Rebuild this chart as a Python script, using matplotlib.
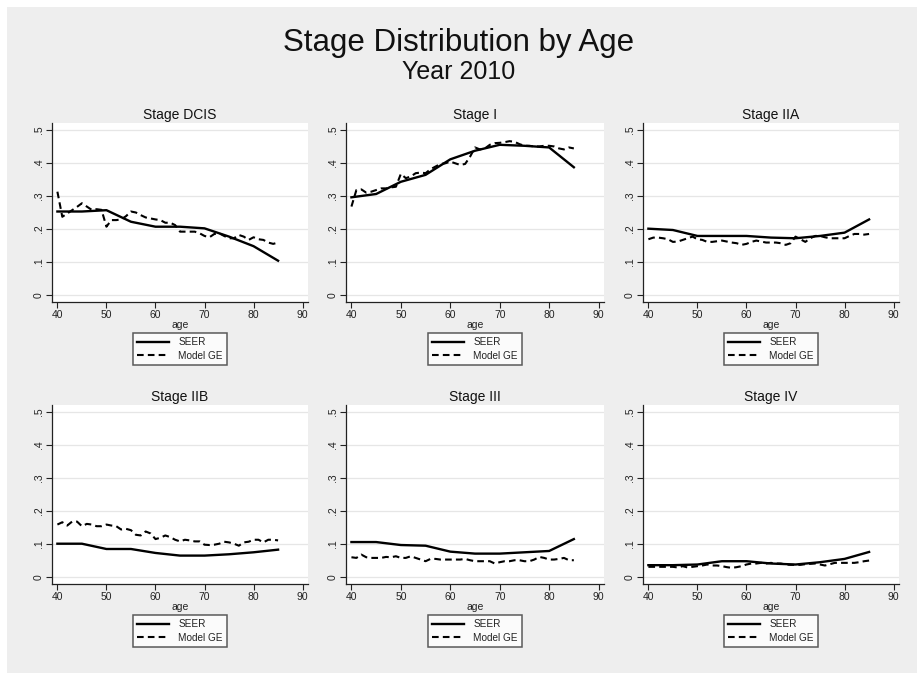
import matplotlib
matplotlib.use("Agg")
import matplotlib.pyplot as plt
from matplotlib.patches import Rectangle

plt.rcParams['font.family'] = ['Liberation Sans', 'DejaVu Sans']

ages = list(range(40, 86))
seer_ages = [40, 45, 50, 55, 60, 65, 70, 75, 80, 85]

titles = ["Stage DCIS", "Stage I", "Stage IIA", "Stage IIB", "Stage III", "Stage IV"]

seer_dcis = [0.253, 0.253, 0.257, 0.222, 0.207, 0.207, 0.202, 0.177, 0.148, 0.104]
seer_i    = [0.296, 0.306, 0.343, 0.364, 0.411, 0.437, 0.455, 0.452, 0.447, 0.387]
seer_iia  = [0.201, 0.197, 0.179, 0.179, 0.179, 0.174, 0.172, 0.179, 0.189, 0.229]
seer_iib  = [0.101, 0.101, 0.085, 0.085, 0.073, 0.065, 0.065, 0.069, 0.075, 0.083]
seer_iii  = [0.106, 0.106, 0.097, 0.095, 0.077, 0.071, 0.071, 0.075, 0.079, 0.115]
seer_iv   = [0.036, 0.036, 0.038, 0.048, 0.048, 0.041, 0.038, 0.045, 0.055, 0.076]

model_dcis = [0.313, 0.237, 0.247, 0.257, 0.267, 0.278, 0.268, 0.258, 0.260, 0.258,
              0.207, 0.227, 0.227, 0.229, 0.239, 0.253, 0.250, 0.242, 0.235, 0.232,
              0.229, 0.227, 0.219, 0.219, 0.212, 0.192, 0.192, 0.192, 0.192, 0.187,
              0.179, 0.175, 0.185, 0.187, 0.179, 0.172, 0.172, 0.182, 0.177, 0.167,
              0.175, 0.169, 0.167, 0.159, 0.155, 0.159]
model_i = [0.268, 0.318, 0.320, 0.310, 0.313, 0.318, 0.323, 0.323, 0.326, 0.328,
           0.367, 0.354, 0.359, 0.369, 0.371, 0.369, 0.381, 0.389, 0.397, 0.399,
           0.404, 0.399, 0.394, 0.397, 0.419, 0.447, 0.441, 0.444, 0.455, 0.460,
           0.461, 0.463, 0.466, 0.464, 0.457, 0.452, 0.452, 0.450, 0.450, 0.452,
           0.452, 0.450, 0.444, 0.441, 0.447, 0.444]
model_iia = [0.169, 0.174, 0.174, 0.172, 0.169, 0.161, 0.162, 0.167, 0.172, 0.177,
             0.169, 0.167, 0.161, 0.161, 0.163, 0.165, 0.162, 0.159, 0.157, 0.152,
             0.155, 0.161, 0.165, 0.162, 0.159, 0.159, 0.159, 0.157, 0.152, 0.157,
             0.177, 0.169, 0.161, 0.172, 0.179, 0.179, 0.175, 0.172, 0.172, 0.172,
             0.172, 0.179, 0.185, 0.185, 0.183, 0.185]
model_iib = [0.159, 0.166, 0.156, 0.168, 0.168, 0.154, 0.161, 0.159, 0.154, 0.154,
             0.159, 0.156, 0.154, 0.144, 0.146, 0.142, 0.128, 0.126, 0.138, 0.132,
             0.115, 0.119, 0.126, 0.121, 0.113, 0.108, 0.113, 0.111, 0.108, 0.108,
             0.098, 0.097, 0.098, 0.101, 0.107, 0.105, 0.101, 0.095, 0.105, 0.107,
             0.113, 0.113, 0.105, 0.113, 0.113, 0.111]
model_iii = [0.060, 0.058, 0.068, 0.060, 0.058, 0.058, 0.058, 0.061, 0.060, 0.063,
             0.058, 0.058, 0.063, 0.058, 0.053, 0.048, 0.055, 0.055, 0.053, 0.053,
             0.053, 0.053, 0.053, 0.055, 0.051, 0.048, 0.048, 0.048, 0.048, 0.041,
             0.045, 0.048, 0.048, 0.051, 0.051, 0.048, 0.048, 0.053, 0.061, 0.058,
             0.053, 0.053, 0.055, 0.058, 0.051, 0.051]
model_iv = [0.031, 0.031, 0.031, 0.031, 0.031, 0.031, 0.029, 0.033, 0.029, 0.031,
            0.033, 0.035, 0.038, 0.035, 0.035, 0.033, 0.030, 0.028, 0.030, 0.033,
            0.038, 0.041, 0.041, 0.043, 0.041, 0.043, 0.041, 0.041, 0.038, 0.037,
            0.037, 0.037, 0.039, 0.040, 0.041, 0.038, 0.035, 0.039, 0.043, 0.043,
            0.043, 0.043, 0.043, 0.045, 0.048, 0.050]

seer_all = [seer_dcis, seer_i, seer_iia, seer_iib, seer_iii, seer_iv]
model_all = [model_dcis, model_i, model_iia, model_iib, model_iii, model_iv]

xticks = [40, 50, 60, 70, 80, 90]
yticks = [0, 0.1, 0.2, 0.3, 0.4, 0.5]
ytick_labels = ["0", ".1", ".2", ".3", ".4", ".5"]

W, H = 917, 673
fig = plt.figure(figsize=(W / 100, H / 100), dpi=100)
fig.patch.set_facecolor("white")
fig.add_artist(Rectangle((7 / W, 0), 1 - 7 / W + 0.01, 1 - 7 / H, transform=fig.transFigure,
                         facecolor="#eeeeee", edgecolor="none", zorder=-10))

fig.text(0.5, 1 - 43 / H, "Stage Distribution by Age", ha="center", va="center",
         fontsize=22.5, color="#111111")
fig.text(0.5, 1 - 72 / H, "Year 2010", ha="center", va="center",
         fontsize=18, color="#111111")

lefts = [52, 346, 643]
rights = [308, 604, 899]
tops = [123, 405]
bottoms = [302, 584]

for i in range(6):
    r, c = divmod(i, 3)
    l, rt = lefts[c], rights[c]
    t, b = tops[r], bottoms[r]
    ax = fig.add_axes([l / W, 1 - b / H, (rt - l) / W, (b - t) / H])
    ax.set_facecolor("white")
    for y in yticks:
        ax.axhline(y, color="#e6e6e6", lw=0.9, zorder=0)
    ax.plot(seer_ages, seer_all[i], color="black", lw=1.7, label="SEER", zorder=3)
    ax.plot(ages, model_all[i], color="black", lw=1.5, ls=(0, (3.2, 2.0)),
            label="Model GE", zorder=3)
    ax.set_xlim(38.9, 91.1)
    ax.set_ylim(-0.021, 0.521)
    ax.set_xticks(xticks)
    ax.set_yticks(yticks)
    ax.set_yticklabels(ytick_labels, rotation=90, va="center")
    ax.tick_params(axis="both", labelsize=7.5, length=4, width=0.8, color="#222222",
                   pad=2, labelcolor="#222222")
    for s in ["top", "right"]:
        ax.spines[s].set_visible(False)
    for s in ["left", "bottom"]:
        ax.spines[s].set_linewidth(0.9)
        ax.spines[s].set_color("#222222")
    ax.set_xlabel("age", fontsize=7.5, labelpad=0, color="#222222")
    ax.set_title(titles[i], fontsize=10, pad=3, color="#111111")
    leg = ax.legend(loc="upper center", bbox_to_anchor=(0.5, -0.172), fontsize=7.2,
                    frameon=True, fancybox=False, edgecolor="#333333",
                    handlelength=3.2, borderpad=0.45, labelspacing=0.35,
                    handletextpad=0.9, borderaxespad=0)
    leg.get_frame().set_linewidth(1.1)
    for txt in leg.get_texts():
        txt.set_color("#222222")

fig.savefig("out.png", dpi=100)
